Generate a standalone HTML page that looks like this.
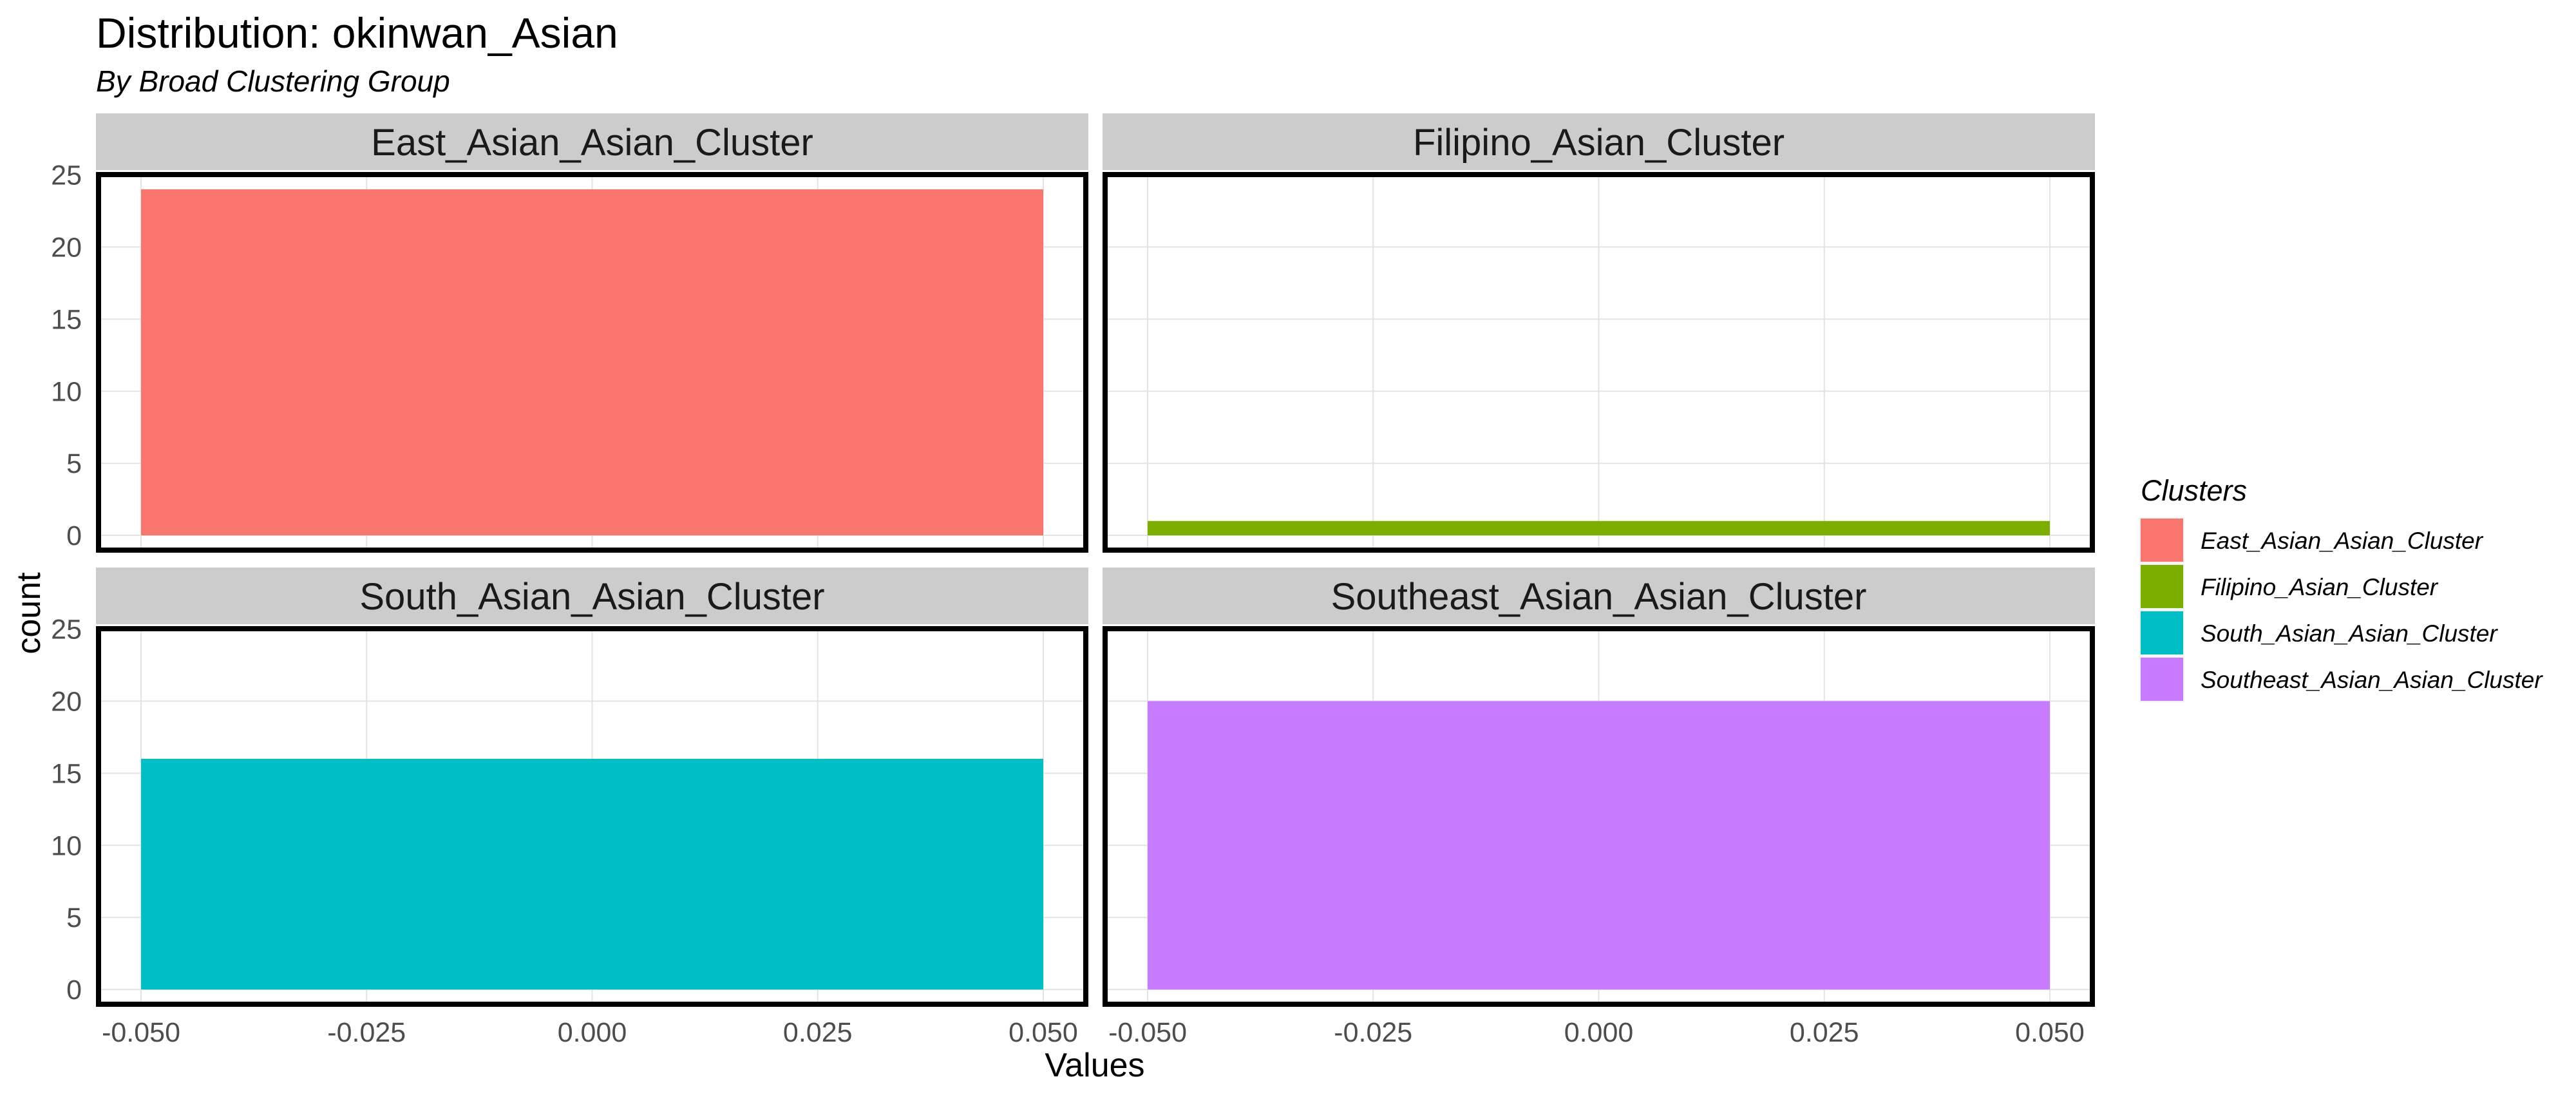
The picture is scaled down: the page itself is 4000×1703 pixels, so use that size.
<!DOCTYPE html>
<html><head><meta charset="utf-8"><style>
html,body{margin:0;padding:0;background:#fff;}
svg{display:block;font-family:"Liberation Sans",Arial,sans-serif;}
</style></head><body>
<svg id="chart" width="4000" height="1703" viewBox="0 0 4000 1703" xmlns="http://www.w3.org/2000/svg">
<text x="149" y="74" font-size="66" fill="#000">Distribution: okinwan_Asian</text>
<text x="149" y="142" font-size="46" font-style="italic" fill="#000">By Broad Clustering Group</text>
<text transform="translate(62,952) rotate(-90)" text-anchor="middle" font-size="52" fill="#000">count</text>
<text x="1700" y="1671" text-anchor="middle" font-size="52" fill="#000">Values</text>
<g id="panels"></g>
<g id="legend"></g>
</svg>
<script>
const clusters = ["East_Asian_Asian_Cluster","Filipino_Asian_Cluster","South_Asian_Asian_Cluster","Southeast_Asian_Asian_Cluster"];
const counts = [24, 1, 16, 20];
const binLo = [-0.05, -0.05, -0.05, -0.05];
const binHi = [0.05, 0.05, 0.05, 0.05];
const colors = ["#F8766D","#7CAE00","#00BFC4","#C77CFF"];
const yTicks = [0, 5, 10, 15, 20, 25];
const xTicks = [-0.05, -0.025, 0, 0.025, 0.05];
const xTickLabels = ["-0.050","-0.025","0.000","0.025","0.050"];

const NS = "http://www.w3.org/2000/svg";
function mk(tag, attrs, parent){const e=document.createElementNS(NS,tag);for(const k in attrs)e.setAttribute(k,attrs[k]);parent.appendChild(e);return e;}
const panels = document.getElementById('panels');
const colX = [149, 1712], rowY = [267, 972], W = 1541, H = 591;
const xMin = -0.055, xMax = 0.055;
const yMaxData = Math.max(...counts);
const yLo = -yMaxData*0.05, yHi = yMaxData*1.05;

clusters.forEach((name, i) => {
  const c = i % 2, r = Math.floor(i / 2);
  const L = colX[c], T = rowY[r];
  const sx = v => L + (v - xMin) / (xMax - xMin) * W;
  const sy = v => T + H - (v - yLo) / (yHi - yLo) * H;
  const g = mk('g', {}, panels);
  
  
  const strip = mk('rect', {x:L, y:T-91, width:W, height:88, fill:'#CCCCCC'}, g);
  
  
  const st = mk('text', {x:L+W/2, y:T-26, 'text-anchor':'middle', 'font-size':58, fill:'#1A1A1A'}, g);
  st.textContent = name;
  
  
  yTicks.forEach(t=>{const gl=mk('line',{x1:L,x2:L+W,y1:sy(t),y2:sy(t),stroke:'#E3E3E3','stroke-width':2},g);});
  xTicks.forEach(t=>{const gl=mk('line',{x1:sx(t),x2:sx(t),y1:T,y2:T+H,stroke:'#E3E3E3','stroke-width':2},g);});
  const bar = mk('rect', {x:sx(binLo[i]), y:sy(counts[i]), width:sx(binHi[i])-sx(binLo[i]), height:sy(0)-sy(counts[i]), fill:colors[i]}, g);
  
  
  const bd = mk('rect', {x:L+4, y:T+4, width:W-8, height:H-8, fill:'none', stroke:'#000', 'stroke-width':8}, g);
  
  
  if (c === 0) {
    yTicks.forEach(t=>{const tl=mk('text',{x:127,y:sy(t)+15,'text-anchor':'end','font-size':43,fill:'#4D4D4D'},g);tl.textContent=String(t);});
  }
  if (r === 1) {
    xTicks.forEach((t,k)=>{const tl=mk('text',{x:sx(t),y:1617,'text-anchor':'middle','font-size':43,fill:'#4D4D4D'},g);tl.textContent=xTickLabels[k];});
  }
});

const lg = document.getElementById('legend');
const lt = mk('text', {x:3324, y:777, 'font-size':45, 'font-style':'italic', fill:'#000'}, lg);
lt.textContent = 'Clusters';


clusters.forEach((name,i)=>{
  const y = 805 + i*72;
  const bg = mk('rect',{x:3322,y:y-2,width:70,height:71,fill:'#F2F2F2'},lg);
  
  
  const k = mk('rect',{x:3324,y:y,width:66,height:67,fill:colors[i]},lg);
  
  
  const t = mk('text',{x:3417,y:y+47,'font-size':37,'font-style':'italic',fill:'#000'},lg);
  t.textContent = name;
  
  
});
</script>
</body></html>
